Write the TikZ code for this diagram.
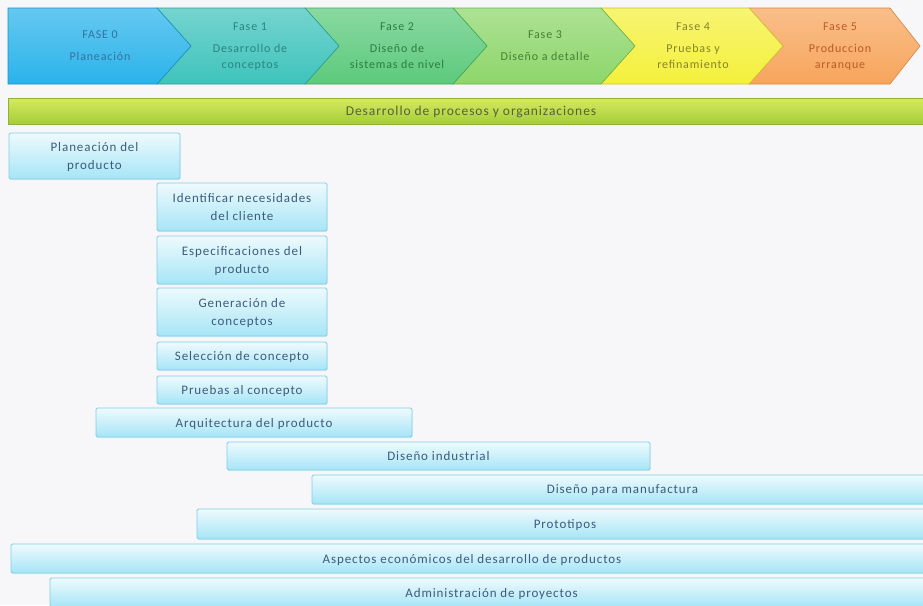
\documentclass[tikz,border=0pt]{standalone}
\usepackage{fontspec}
\setmainfont{Carlito}
\newfontfamily\tracked[LetterSpace=7]{Carlito}
\usetikzlibrary{shadows}

% phase colours: fill, edge, text
\definecolor{bgc}{HTML}{F7F7F9}
\definecolor{fA}{HTML}{2AB3EA}\definecolor{eA}{HTML}{1C8FC4}\definecolor{tA}{HTML}{35729F}
\definecolor{fB}{HTML}{3FC3BC}\definecolor{eB}{HTML}{2A9E98}\definecolor{tB}{HTML}{2A857E}
\definecolor{fC}{HTML}{5CCA7C}\definecolor{eC}{HTML}{3FA75E}\definecolor{tC}{HTML}{2C7C44}
\definecolor{fD}{HTML}{8DD66A}\definecolor{eD}{HTML}{6AB34B}\definecolor{tD}{HTML}{467E33}
\definecolor{fE}{HTML}{F4F03C}\definecolor{eE}{HTML}{C9C62A}\definecolor{tE}{HTML}{86842A}
\definecolor{fF}{HTML}{F7A55C}\definecolor{eF}{HTML}{D9843C}\definecolor{tF}{HTML}{BC5A28}
% process bar and activity boxes
\definecolor{barTop}{HTML}{D6EA5E}\definecolor{barBot}{HTML}{A6CC3A}
\definecolor{barEdge}{HTML}{8DB236}\definecolor{barText}{HTML}{52633A}
\definecolor{boxTop}{HTML}{EEFAFD}\definecolor{boxBot}{HTML}{A6E5F6}
\definecolor{boxEdge}{HTML}{80CDE6}\definecolor{boxText}{HTML}{3D5C7C}

\tikzset{
  phasetext/.style={align=center, font=\tracked\fontsize{12}{16}\selectfont, inner sep=0pt},
  chevron/.style={line width=0.6pt},
  activity/.style={draw=boxEdge, line width=0.8pt, top color=boxTop, bottom color=boxBot,
    rounded corners=1.5pt, inner sep=2pt, align=center, text=boxText,
    font=\tracked\fontsize{13}{18.5}\selectfont,
    drop shadow={shadow xshift=0.6pt, shadow yshift=-1.2pt, opacity=0.25, fill=boxEdge}},
  procbar/.style={draw=barEdge, line width=0.6pt, top color=barTop, bottom color=barBot,
    inner sep=0pt, text=barText, font=\tracked\fontsize{13.5}{15}\selectfont,
    drop shadow={shadow xshift=0pt, shadow yshift=-1.2pt, opacity=0.3, fill=barEdge}}
}

\begin{document}
\begin{tikzpicture}[x=1pt, y=-1pt]
\useasboundingbox (0,0) rectangle (923,605);
\clip (0,0) rectangle (923,605);
\fill[bgc] (0,0) rectangle (923,605);

% ---- phase chevrons, drawn right to left so each tip lies on its neighbour ----
\def\ct{8}\def\cb{84}\def\cm{46}\def\dp{34}
\path[chevron, draw=eF, top color=fF!72!white, bottom color=fF]
  (749,\ct) -- (890,\ct) -- (920,\cm) -- (890,\cb) -- (749,\cb) -- (749+\dp,\cm) -- cycle;
\foreach \xl/\xr/\fc/\ec in {601/749/fE/eE, 453/601/fD/eD, 305/453/fC/eC, 157/305/fB/eB}{
  \path[chevron, draw=\ec, top color=\fc!72!white, bottom color=\fc]
    (\xl,\ct) -- (\xr,\ct) -- (\xr+\dp,\cm) -- (\xr,\cb) -- (\xl,\cb) -- (\xl+\dp,\cm) -- cycle;
}
\path[chevron, draw=eA, top color=fA!72!white, bottom color=fA]
  (8,\ct) -- (157,\ct) -- (157+\dp,\cm) -- (157,\cb) -- (8,\cb) -- cycle;

\node[phasetext, text=tA] (f0) at (100,\cm) {FASE 0\\[6pt]Planeación};
\node[phasetext, text=tB] (f1) at (250,\cm) {Fase 1\\[6pt]Desarrollo de\\conceptos};
\node[phasetext, text=tC] (f2) at (397,\cm) {Fase 2\\[6pt]Diseño de\\sistemas de nivel};
\node[phasetext, text=tD] (f3) at (545,\cm) {Fase 3\\[6pt]Diseño a detalle};
\node[phasetext, text=tE] (f4) at (693,\cm) {Fase 4\\[6pt]Pruebas y\\refinamiento};
\node[phasetext, text=tF] (f5) at (840,\cm) {Fase 5\\[6pt]Produccion\\arranque};

% ---- process bar ----
\node[procbar, minimum width=926pt, minimum height=26pt] (proc) at (471,111)
  {Desarrollo de procesos y organizaciones};

% ---- activities ----
\node[activity, minimum width=171pt, minimum height=46pt] (plan)  at (94.5,156) {Planeación del\\producto};
\node[activity, minimum width=170pt, minimum height=48pt] (ident) at (242,207) {Identificar necesidades\\del cliente};
\node[activity, minimum width=170pt, minimum height=48pt] (espec) at (242,260) {Especificaciones del\\producto};
\node[activity, minimum width=170pt, minimum height=48pt] (gener) at (242,312) {Generación de\\conceptos};
\node[activity, minimum width=170pt, minimum height=28pt] (selec) at (242,356) {Selección de concepto};
\node[activity, minimum width=170pt, minimum height=28pt] (prueb) at (242,390) {Pruebas al concepto};
\node[activity, minimum width=316pt, minimum height=29pt] (arqui) at (254,422.5) {Arquitectura del producto};
\node[activity, minimum width=423pt, minimum height=28pt] (indus) at (438.5,456) {Diseño industrial};
\node[activity, minimum width=621pt, minimum height=29pt] (manuf) at (622.5,489.5) {Diseño para manufactura};
\node[activity, minimum width=736pt, minimum height=30pt] (proto) at (565,524) {Prototipos};
\node[activity, minimum width=922pt, minimum height=29pt] (aspec) at (472,558.5) {Aspectos económicos del desarrollo de productos};
\node[activity, minimum width=883pt, minimum height=29pt] (admin) at (491.5,592.5) {Administración de proyectos};
\end{tikzpicture}
\end{document}
